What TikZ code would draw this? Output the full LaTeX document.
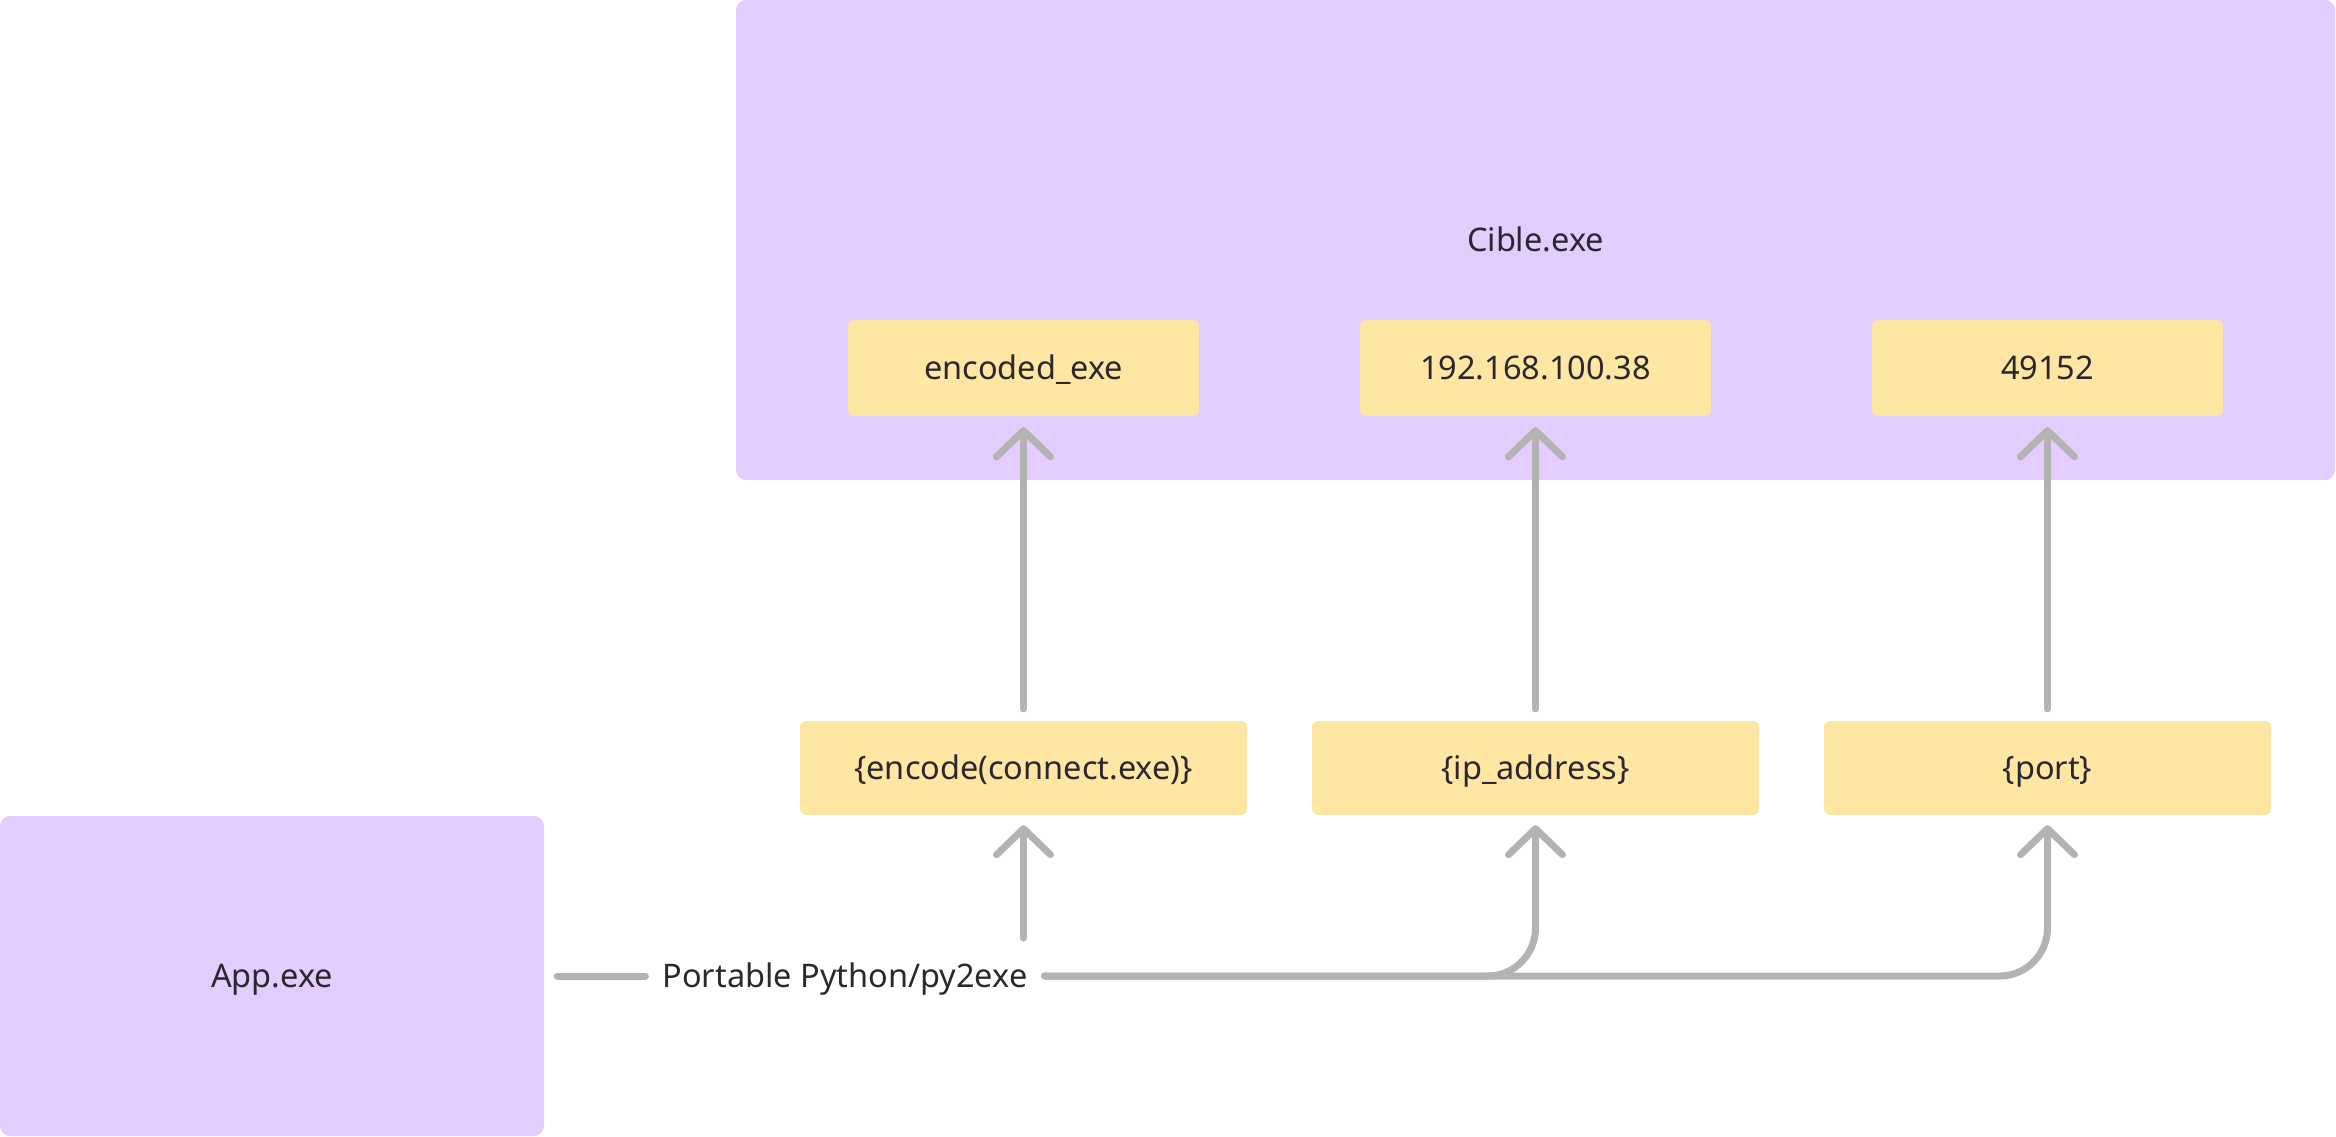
\documentclass[tikz,border=0pt]{standalone}
\usepackage{fontspec}
\setmainfont{Noto Sans}
\usetikzlibrary{arrows.meta}
\definecolor{purp}{HTML}{E3CCFE}
\definecolor{yel}{HTML}{FFE7A3}
\definecolor{conn}{HTML}{B3B3B3}
\definecolor{ink}{HTML}{2B2730}
\begin{document}
\begin{tikzpicture}[x=1pt,y=-1pt,
  txt/.style={text=ink, font=\fontsize{32.5}{38}\selectfont, text height=23pt, text depth=0pt},
  purplebox/.style={txt, fill=purp, rounded corners=10pt, inner sep=0pt},
  yelbox/.style={txt, fill=yel, rounded corners=6pt, inner sep=0pt},
  topbox/.style={yelbox, minimum width=351pt, minimum height=96pt},
  botbox/.style={yelbox, minimum width=447pt, minimum height=94pt},
  conline/.style={draw=conn, line width=7pt, line cap=round, line join=round},
  arr/.style={conline, -{Straight Barb[length=26pt, width=54pt, round]}}
]
\useasboundingbox (0,0) rectangle (2336,1136);
% containers
\node[purplebox, minimum width=1599pt, minimum height=480pt] (cible) at (1535.5,240) {Cible.exe};
\node[purplebox, minimum width=544pt, minimum height=320pt] (app) at (272,976) {App.exe};
% top row
\node[topbox] (enct) at (1023.5,368) {encoded\_exe};
\node[topbox] (ipt) at (1535.5,368) {192.168.100.38};
\node[topbox] (portt) at (2047.5,368) {49152};
% bottom row
\node[botbox] (encb) at (1023.5,768) {\{encode(connect.exe)\}};
\node[botbox] (ipb) at (1535.5,768) {\{ip\_address\}};
\node[botbox] (portb) at (2047.5,768) {\{port\}};
% label
\node[txt, inner sep=0pt] (lab) at (845,976) {Portable Python/py2exe};
% upward arrows
\draw[arr, shorten <=12pt, shorten >=11pt] (encb.north) -- (encb.north |- enct.south);
\draw[arr, shorten <=12pt, shorten >=11pt] (ipb.north) -- (ipb.north |- ipt.south);
\draw[arr, shorten <=12pt, shorten >=11pt] (portb.north) -- (portb.north |- portt.south);
% lower connectors
\coordinate (e0) at (1023.5,938);
\draw[arr, shorten >=10pt] (e0) -- (e0 |- encb.south);
\draw[conline, shorten <=13pt, shorten >=17pt] (app.east) -- (app.east -| lab.west);
\draw[arr, rounded corners=48pt, shorten <=17pt, shorten >=10pt] (lab.east) -| (ipb.south);
\draw[arr, rounded corners=48pt, shorten <=17pt, shorten >=10pt] (lab.east) -| (portb.south);
\end{tikzpicture}
\end{document}
